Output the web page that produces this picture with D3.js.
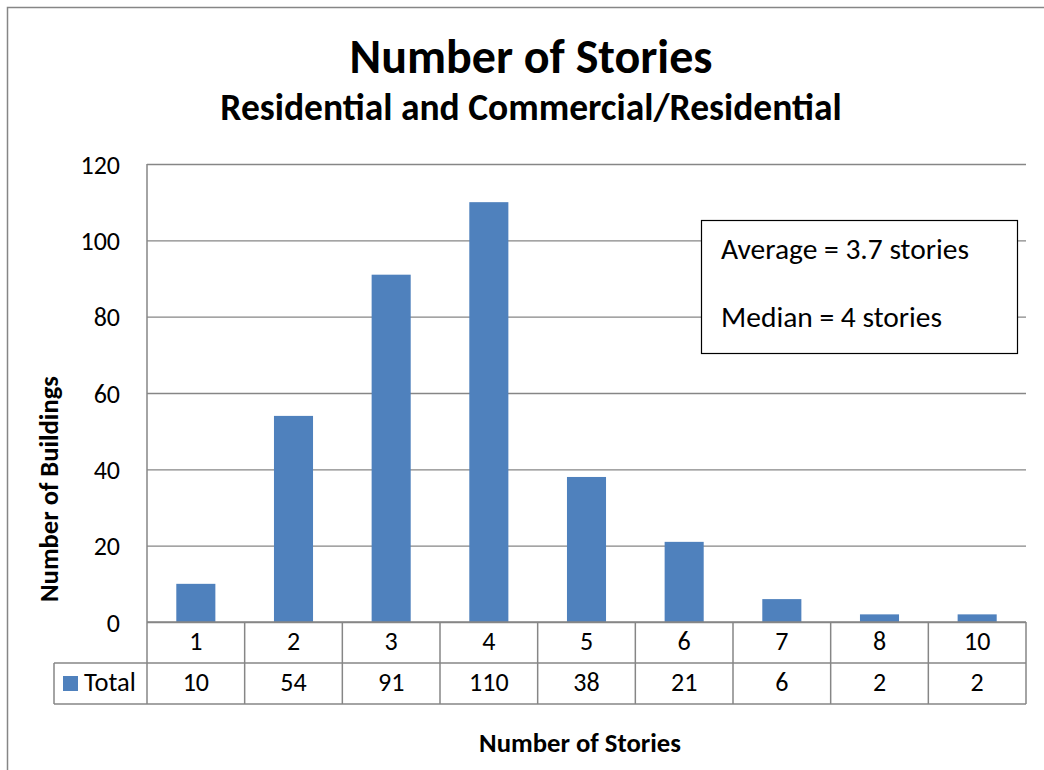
<!DOCTYPE html>
<html>
<head>
<meta charset="utf-8">
<script src="https://cdn.jsdelivr.net/npm/d3@7"></script>
<style>
  html, body { margin: 0; padding: 0; background: #fff; }
  svg { display: block; font-family: Carlito, Calibri, Lato, "Open Sans", sans-serif; }
</style>
</head>
<body>
<svg id="chart" width="1044" height="770"></svg>
<script>
// Building counts by number of stories
const categories = ["1", "2", "3", "4", "5", "6", "7", "8", "10"];
const totals = [10, 54, 91, 110, 38, 21, 6, 2, 2];
const yTicks = [0, 20, 40, 60, 80, 100, 120];
const seriesName = "Total";
const notes = ["Average = 3.7 stories", "Median = 4 stories"];

const svg = d3.select("#chart");
const gridColor = "#868686";
const barColor = "#4F81BD";
const fontStack = "Carlito, Calibri, Lato, 'Open Sans', sans-serif";

// outer chart frame
svg.append("rect")
  .attr("x", 7.5).attr("y", 7.5)
  .attr("width", 1060).attr("height", 800)
  .attr("fill", "#fff").attr("stroke", gridColor).attr("stroke-width", 1.5);

const plot = { left: 147, right: 1026, top: 164, bottom: 622 };

const x = d3.scaleBand()
  .domain(categories)
  .range([plot.left, plot.right])
  .paddingInner(0.6)
  .paddingOuter(0.3);

const xCell = d3.scaleBand()
  .domain(categories)
  .range([plot.left, plot.right])
  .padding(0);

const y = d3.scaleLinear()
  .domain([0, 120])
  .range([plot.bottom, plot.top]);

// horizontal gridlines + y tick labels
const yAxis = d3.axisLeft(y)
  .tickValues(yTicks)
  .tickSize(-(plot.right - plot.left))
  .tickPadding(27);
const gy = svg.append("g")
  .attr("transform", `translate(${plot.left},0)`)
  .call(yAxis)
  .attr("font-family", fontStack)
  .attr("font-size", null);
gy.select(".domain").remove();
gy.selectAll(".tick line")
  .attr("stroke", gridColor).attr("stroke-width", 1.3);
gy.selectAll(".tick text")
  .attr("fill", "#000")
  .style("font-size", "26px")
  .attr("dy", "0.35em");

// bars
svg.append("g").selectAll("rect")
  .data(categories)
  .join("rect")
  .attr("x", d => x(d))
  .attr("width", x.bandwidth())
  .attr("y", (d, i) => y(totals[i]))
  .attr("height", (d, i) => y(0) - y(totals[i]))
  .attr("fill", barColor);

// data table under the plot
const rowTop = plot.bottom, rowMid = 663, rowBot = 704, legendLeft = 54;
const table = svg.append("g")
  .attr("stroke", gridColor).attr("stroke-width", 1.5).attr("fill", "none");

table.append("line").attr("x1", plot.left).attr("x2", plot.right)
  .attr("y1", rowTop).attr("y2", rowTop);
table.append("line").attr("x1", legendLeft).attr("x2", plot.right)
  .attr("y1", rowMid).attr("y2", rowMid);
table.append("line").attr("x1", legendLeft).attr("x2", plot.right)
  .attr("y1", rowBot).attr("y2", rowBot);
table.append("line").attr("x1", legendLeft).attr("x2", legendLeft)
  .attr("y1", rowMid).attr("y2", rowBot);
table.append("line").attr("x1", plot.left).attr("x2", plot.left)
  .attr("y1", plot.top).attr("y2", rowBot);
table.selectAll("line.sep")
  .data(categories)
  .join("line")
  .attr("class", "sep")
  .attr("x1", d => xCell(d) + xCell.bandwidth())
  .attr("x2", d => xCell(d) + xCell.bandwidth())
  .attr("y1", rowTop).attr("y2", rowBot);

svg.append("g").selectAll("text")
  .data(categories)
  .join("text")
  .attr("x", d => xCell(d) + xCell.bandwidth() / 2)
  .attr("y", 650)
  .attr("text-anchor", "middle")
  .style("font-size", "26px")
  .text(d => d);

svg.append("g").selectAll("text")
  .data(categories)
  .join("text")
  .attr("x", d => xCell(d) + xCell.bandwidth() / 2)
  .attr("y", 691)
  .attr("text-anchor", "middle")
  .style("font-size", "26px")
  .text((d, i) => totals[i]);

// legend key in the table
svg.append("rect")
  .attr("x", 63).attr("y", 676).attr("width", 15).attr("height", 15)
  .attr("fill", barColor);
svg.append("text")
  .attr("x", 84).attr("y", 691)
  .style("font-size", "26.5px")
  .text(seriesName);

// titles
svg.append("text")
  .attr("x", 531).attr("y", 73)
  .attr("text-anchor", "middle")
  .style("font-size", "48px").style("font-weight", "bold")
  .text("Number of Stories");
svg.append("text")
  .attr("x", 531).attr("y", 120)
  .attr("text-anchor", "middle")
  .style("font-size", "37.5px").style("font-weight", "bold")
  .text("Residential and Commercial/Residential");

svg.append("text")
  .attr("transform", "translate(58,489) rotate(-90)")
  .attr("text-anchor", "middle")
  .style("font-size", "26.6px").style("font-weight", "bold")
  .text("Number of Buildings");

svg.append("text")
  .attr("x", 580).attr("y", 752)
  .attr("text-anchor", "middle")
  .style("font-size", "26.7px").style("font-weight", "bold")
  .text("Number of Stories");

// annotation box
svg.append("rect")
  .attr("x", 701.5).attr("y", 220.5)
  .attr("width", 316).attr("height", 133)
  .attr("fill", "#fff").attr("stroke", "#000").attr("stroke-width", 1.2);
svg.append("g").selectAll("text")
  .data(notes)
  .join("text")
  .attr("x", 721)
  .attr("y", (d, i) => 259 + i * 68)
  .style("font-size", "29.5px")
  .text(d => d);
</script>
</body>
</html>
